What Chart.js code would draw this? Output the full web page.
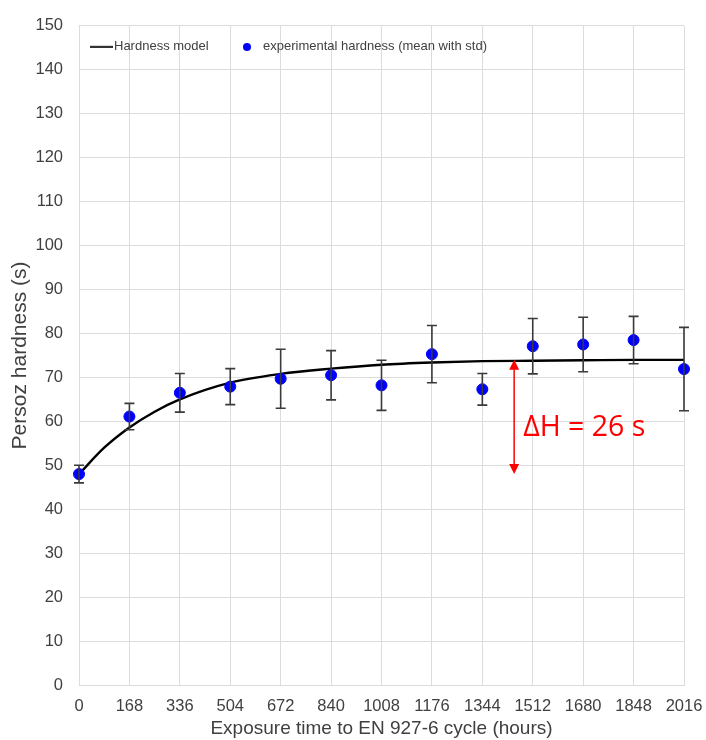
<!DOCTYPE html>
<html>
<head>
<meta charset="utf-8">
<script src="https://cdn.jsdelivr.net/npm/chart.js@4.4.1/dist/chart.umd.min.js"></script>
<style>
  html, body { margin: 0; padding: 0; background: #fff; }
  #wrap { width: 706px; height: 740px; }
</style>
</head>
<body>
<div id="wrap"><canvas id="hardnessChart"></canvas></div>
<script>
// data
const hours = [0, 168, 336, 504, 672, 840, 1008, 1176, 1344, 1512, 1680, 1848, 2016];
const hardnessMean = [48.0, 61.1, 66.5, 67.9, 69.7, 70.5, 68.2, 75.3, 67.3, 77.1, 77.5, 78.5, 71.9];
const hardnessStd = [2.0, 3.0, 4.4, 4.1, 6.7, 5.6, 5.7, 6.5, 3.6, 6.3, 6.2, 5.4, 9.5];
const modelHours = [0, 84, 168, 252, 336, 504, 672, 840, 1008, 1176, 1344, 1512, 1680, 1848, 2016];
const modelHardness = [48.0, 54.0, 58.6, 62.2, 65.0, 68.8, 70.8, 72.0, 72.9, 73.4, 73.7, 73.8, 73.9, 74.0, 74.0];
const yTicks = [0, 10, 20, 30, 40, 50, 60, 70, 80, 90, 100, 110, 120, 130, 140, 150];
const deltaArrow = [1450, 74, 48]; // x, from, to
const deltaLabel = "\u0394H = 26 s";

const FONT = '"Liberation Sans", Arial, sans-serif';
const TXT = "#404040";

// error bars (mean +/- std) drawn through the scales
const errorBars = {
  id: "errorBars",
  afterDatasetsDraw(chart) {
    const ctx = chart.ctx, xs = chart.scales.x, ys = chart.scales.y;
    ctx.save();
    ctx.strokeStyle = "#3a3a3a";
    ctx.lineWidth = 1.6;
    hours.forEach((h, i) => {
      const px = xs.getPixelForValue(h);
      const top = ys.getPixelForValue(hardnessMean[i] + hardnessStd[i]);
      const bot = ys.getPixelForValue(hardnessMean[i] - hardnessStd[i]);
      ctx.beginPath();
      ctx.moveTo(px, top); ctx.lineTo(px, bot);
      ctx.moveTo(px - 5, top); ctx.lineTo(px + 5, top);
      ctx.moveTo(px - 5, bot); ctx.lineTo(px + 5, bot);
      ctx.stroke();
    });
    ctx.restore();
  }
};

// delta H arrow and label
const deltaNote = {
  id: "deltaNote",
  afterDraw(chart) {
    const ctx = chart.ctx, xs = chart.scales.x, ys = chart.scales.y;
    const px = xs.getPixelForValue(deltaArrow[0]);
    const y1 = ys.getPixelForValue(deltaArrow[1]);
    const y2 = ys.getPixelForValue(deltaArrow[2]);
    ctx.save();
    ctx.strokeStyle = ctx.fillStyle = "#ff0000";
    ctx.lineWidth = 1.5;
    ctx.beginPath();
    ctx.moveTo(px, y1 + 8); ctx.lineTo(px, y2 - 8);
    ctx.stroke();
    ctx.beginPath();
    ctx.moveTo(px, y1); ctx.lineTo(px - 5, y1 + 10); ctx.lineTo(px + 5, y1 + 10); ctx.closePath();
    ctx.moveTo(px, y2); ctx.lineTo(px - 5, y2 - 10); ctx.lineTo(px + 5, y2 - 10); ctx.closePath();
    ctx.fill();
    ctx.font = '28.5px "Open Sans", "Noto Sans", sans-serif';
    ctx.textBaseline = "middle";
    ctx.fillText(deltaLabel, px + 9, ys.getPixelForValue(58.6));
    ctx.restore();
  }
};

// legend inside the plot, top left
const innerLegend = {
  id: "innerLegend",
  afterDraw(chart) {
    const ctx = chart.ctx, a = chart.chartArea;
    const ds = chart.data.datasets;
    const y = a.top + 21;
    ctx.save();
    ctx.font = "13px " + FONT;
    ctx.textBaseline = "middle";
    ctx.fillStyle = TXT;
    ctx.strokeStyle = "#333";
    ctx.lineWidth = 2.2;
    ctx.beginPath();
    ctx.moveTo(a.left + 11, y); ctx.lineTo(a.left + 34, y);
    ctx.stroke();
    ctx.fillText(ds[0].label, a.left + 35, y);
    ctx.fillStyle = "#0000ff";
    ctx.beginPath();
    ctx.arc(a.left + 168, y, 4, 0, Math.PI * 2);
    ctx.fill();
    ctx.fillStyle = TXT;
    ctx.fillText(ds[1].label, a.left + 184, y);
    ctx.restore();
  }
};

new Chart(document.getElementById("hardnessChart"), {
  type: "scatter",
  data: {
    datasets: [{
      type: "line",
      label: "Hardness model",
      data: modelHours.map((h, i) => ({ x: h, y: modelHardness[i] })),
      borderColor: "#000",
      borderWidth: 2.4,
      pointRadius: 0,
      cubicInterpolationMode: "monotone",
      fill: false,
      clip: false,
      order: 1
    }, {
      label: "experimental hardness (mean with std)",
      data: hours.map((h, i) => ({ x: h, y: hardnessMean[i] })),
      backgroundColor: "#0000ff",
      borderColor: "#0000ff",
      pointRadius: 5.5,
      clip: false,
      order: 0
    }]
  },
  options: {
    responsive: true,
    maintainAspectRatio: false,
    animation: false,
    layout: { padding: { top: 24, right: 22, left: 0, bottom: 0 } },
    plugins: { legend: { display: false }, tooltip: { enabled: false } },
    scales: {
      x: {
        type: "linear",
        min: 0, max: 2016,
        afterBuildTicks: s => { s.ticks = hours.map(v => ({ value: v })); },
        afterFit: s => { s.height = 55; s.paddingRight = 0; s.paddingLeft = 0; },
        grid: { color: "#dcdcdc", drawTicks: false },
        border: { color: "#dcdcdc" },
        ticks: { color: TXT, font: { family: FONT, size: 16.5 }, padding: 12, maxRotation: 0, autoSkip: false,
                 callback: v => String(v) },
        title: { display: true, text: "Exposure time to EN 927-6 cycle (hours)", color: TXT,
                 font: { family: FONT, size: 19 }, padding: { top: 0, bottom: 0 } }
      },
      y: {
        min: 0, max: 150,
        afterBuildTicks: s => { s.ticks = yTicks.map(v => ({ value: v })); },
        afterFit: s => { s.width = 79; },
        grid: { color: "#dcdcdc", drawTicks: false },
        border: { color: "#dcdcdc" },
        ticks: { color: TXT, font: { family: FONT, size: 16.5 }, padding: 16 },
        title: { display: true, text: "Persoz hardness (s)", color: TXT,
                 font: { family: FONT, size: 21 }, padding: { top: 8, bottom: 0 } }
      }
    }
  },
  plugins: [errorBars, deltaNote, innerLegend]
});
</script>
</body>
</html>
